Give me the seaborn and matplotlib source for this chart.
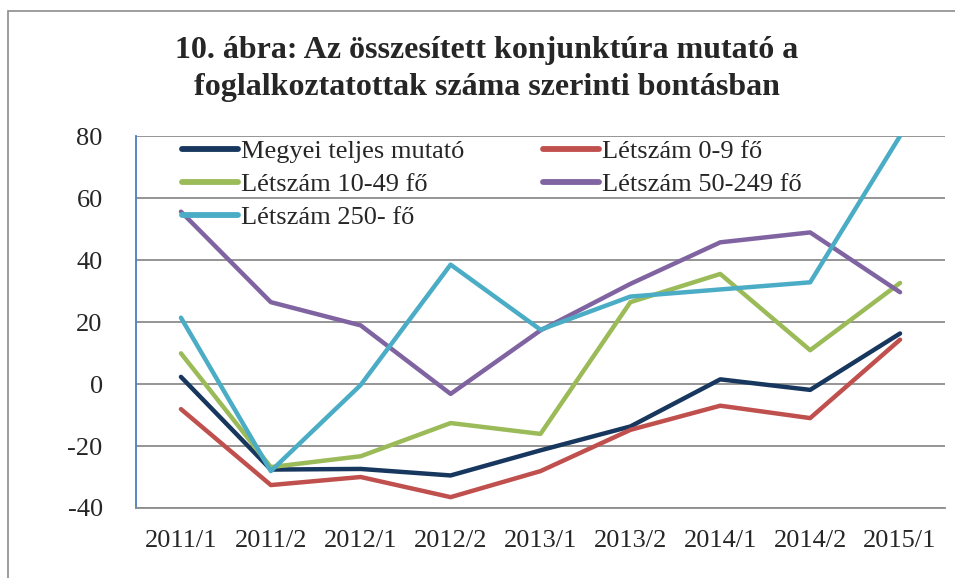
import pandas as pd
import numpy as np
import matplotlib.pyplot as plt
import seaborn as sns
from matplotlib.patches import Rectangle
from matplotlib.lines import Line2D

# periods on the x axis
periods = ['2011/1', '2011/2', '2012/1', '2012/2', '2013/1',
           '2013/2', '2014/1', '2014/2', '2015/1']

# series values
megyei = [2.3, -27.6, -27.4, -29.5, -21.4, -13.7, 1.5, -1.9, 16.3]
l_0_9 = [-8.1, -32.6, -30.0, -36.5, -28.1, -14.8, -7.0, -11.0, 14.3]
l_10_49 = [9.9, -26.8, -23.3, -12.6, -16.1, 26.4, 35.5, 10.9, 32.6]
l_50_249 = [55.6, 26.4, 18.9, -3.2, 17.3, 32.3, 45.7, 48.9, 29.6]
l_250 = [21.4, -28.1, -0.3, 38.5, 17.5, 28.2, 30.5, 32.8, 80.0]

names = ['Megyei teljes mutató', 'Létszám 0-9 fő', 'Létszám 10-49 fő',
         'Létszám 50-249 fő', 'Létszám 250- fő']
colors = ['#17375E', '#C0504D', '#9BBB59', '#8064A2', '#4BACC6']

rows = []
for name, vals in zip(names, [megyei, l_0_9, l_10_49, l_50_249, l_250]):
    for p, v in zip(periods, vals):
        rows.append({'period': p, 'value': v, 'series': name})
df = pd.DataFrame(rows)

sns.set_style('white')
plt.rcParams['font.family'] = ['Liberation Serif', 'DejaVu Serif']
plt.rcParams['axes.unicode_minus'] = False

fig = plt.figure(figsize=(9.55, 5.78), dpi=100)
ax = fig.add_axes([136 / 955, 1 - 508 / 578, 809 / 955, 372 / 578])

# outer chart frame
fig.patches.append(Rectangle((8 / 955, -0.05), 1.2, 1 - 11 / 578 + 0.05,
                             transform=fig.transFigure, fill=False,
                             edgecolor='#8c8c8c', linewidth=1.2, zorder=0))

sns.lineplot(data=df, x='period', y='value', hue='series', hue_order=names,
             palette=colors, linewidth=3.2, ax=ax, legend=False, sort=False)
for ln in ax.lines:
    ln.set_solid_capstyle('round')
    ln.set_solid_joinstyle('round')

ax.set_ylim(-40, 80)
ax.set_xlim(-0.5, len(periods) - 0.5)
ax.set_yticks(np.arange(-40, 81, 20))
ax.yaxis.grid(True, color='#8c8c8c', linewidth=1.3)
ax.xaxis.grid(False)
ax.set_axisbelow(True)
for s in ['top', 'right']:
    ax.spines[s].set_visible(False)
ax.spines['left'].set_color('#4A7EBB')
ax.spines['left'].set_linewidth(1.3)
ax.spines['bottom'].set_color('#8c8c8c')
ax.spines['bottom'].set_linewidth(1.3)
ax.tick_params(axis='y', length=0, pad=24, labelsize=19)
ax.tick_params(axis='x', length=0, pad=16, labelsize=19)
ax.set_xlabel('')
ax.set_ylabel('')

# legend, two columns filled row by row
order = [0, 2, 4, 1, 3]
handles = [Line2D([], [], color=colors[i], linewidth=4.2,
                  solid_capstyle='round') for i in order]
labels = [names[i] for i in order]
ax.legend(handles, labels, ncol=2, loc='upper left',
          bbox_to_anchor=(0.057, 1 - 4 / 372), frameon=False, fontsize=19,
          handlelength=2.1, handletextpad=0.12, columnspacing=3.0,
          labelspacing=0.36, borderpad=0, borderaxespad=0)

fig.text(0.51, 1 - 69 / 578,
         '10. ábra: Az összesített konjunktúra mutató a\n'
         'foglalkoztatottak száma szerinti bontásban',
         ha='center', va='center', fontsize=23, fontweight='bold',
         linespacing=1.32)

fig.savefig('out.png', dpi=100)
